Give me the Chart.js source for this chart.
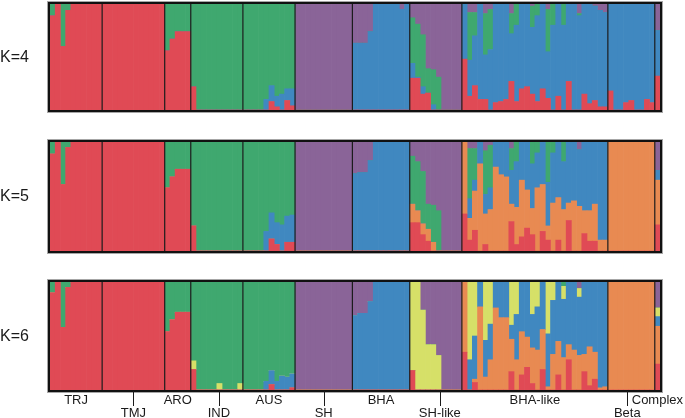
<!DOCTYPE html>
<html>
<head>
<meta charset="utf-8">
<script src="https://cdn.jsdelivr.net/npm/chart.js@4/dist/chart.umd.min.js"></script>
<style>
  html,body{margin:0;padding:0;background:#fff;}
  #wrap{position:relative;width:685px;height:418px;overflow:hidden;}
  .pan{position:absolute;left:0;width:685px;}
</style>
</head>
<body>
<div id="wrap">
  <div class="pan" style="top:0;height:114px"><canvas id="k4"></canvas></div>
  <div class="pan" style="top:138px;height:117px"><canvas id="k5"></canvas></div>
  <div class="pan" style="top:278px;height:140px"><canvas id="k6"></canvas></div>
</div>
<script>
// groups (individuals per group, left to right)
const groupNames = ["TRJ","TMJ","ARO","IND","AUS","SH","BHA","SH-like","BHA-like","Beta","Complex"];
const groupSizes = [10,12,5,10,10,11,11,10,28,9,1];

const colRed = "#e04a55", colGreen = "#3fa86f", colBlue = "#4088c0",
      colPurple = "#8a6498", colOrange = "#e88a52", colYellow = "#d6e068";

// ---- K=4 (bottom to top: red, blue, green, purple)
const k4Red = [
  0.89,1,0.6,0.94,1,1,1,1,1,1,
  1,1,1,1,1,1,1,1,1,1,1,1,
  0.56,0.67,0.74,0.74,0.74,
  0.22,0,0,0,0,0,0,0,0,0,
  0,0,0,0,0,0.08,0.03,0,0.09,0.04,
  0,0,0,0,0,0,0,0,0,0,0,
  0,0,0,0,0,0,0,0,0,0,0,
  0.3,0.3,0.15,0.16,0,0,0,0,0,0,
  0.48,0.13,0.23,0.1,0.1,0,0.07,0.08,0.1,0.27,0.08,0.2,0.22,0.15,0.08,0.2,0.11,0,0.13,0,0.27,0,0,0.15,0.06,0.09,0.03,0.03,
  0.18,0,0,0.07,0.09,0,0,0.1,0.07,
  0.32];
const k4Blue = [
  0,0,0,0,0,0,0,0,0,0,
  0,0,0,0,0,0,0,0,0,0,0,0,
  0,0,0,0,0,
  0,0,0,0,0,0,0,0,0,0,
  0,0,0,0,0.1,0.15,0.1,0.15,0.11,0.16,
  0,0,0,0,0,0,0,0,0,0,0,
  0.63,0.63,0.63,0.74,1,1,1,1,1,0.95,1,
  0.14,0.01,0.07,0,0.05,0,0,0,0,0,
  0.52,0.34,0.47,0.9,0.42,0.57,0.93,0.92,0.9,0.45,0.72,0.8,0.78,0.63,0.81,0.8,0.44,0.8,0.87,0.8,0.73,1,0.89,0.85,0.94,0.89,0.91,0.89,
  0.82,1,1,0.93,0.91,1,1,0.9,0.93,
  0.43];
const k4Green = [
  0.11,0,0.4,0.06,0,0,0,0,0,0,
  0,0,0,0,0,0,0,0,0,0,0,0,
  0.44,0.33,0.26,0.26,0.26,
  0.78,1,1,1,1,1,1,1,1,1,
  1,1,1,1,0.9,0.77,0.87,0.85,0.8,0.8,
  0,0,0,0,0,0,0,0,0,0,0,
  0,0,0,0,0,0,0,0,0,0,0,
  0.43,0.5,0.49,0.23,0.33,0.31,0,0,0,0,
  0,0.45,0.22,0,0.39,0.38,0,0,0,0.19,0.2,0,0,0.2,0.11,0,0.4,0.2,0,0.2,0,0,0.02,0,0,0,0,0,
  0,0,0,0,0,0,0,0,0,
  0];
const k4Purple = [
  0,0,0,0,0,0,0,0,0,0,
  0,0,0,0,0,0,0,0,0,0,0,0,
  0,0,0,0,0,
  0,0,0,0,0,0,0,0,0,0,
  0,0,0,0,0,0,0,0,0,0,
  1,1,1,1,1,1,1,1,1,1,1,
  0.37,0.37,0.37,0.26,0,0,0,0,0,0.05,0,
  0.13,0.19,0.29,0.61,0.62,0.69,1,1,1,1,
  0,0.08,0.08,0,0.09,0.05,0,0,0,0.09,0,0,0,0.02,0,0,0.05,0,0,0,0,0,0.09,0,0,0.02,0.06,0.08,
  0,0,0,0,0,0,0,0,0,
  0.25];

// ---- K=5 (bottom to top: red, orange, blue, green, purple)
const k5Red = [
  0.89,1,0.61,0.95,1,1,1,1,1,1,
  1,1,1,1,1,1,1,1,1,1,1,1,
  0.58,0.68,0.75,0.75,0.75,
  0.23,0,0,0,0,0,0,0,0,0,
  0,0,0,0,0,0.11,0.06,0,0.08,0.08,
  0,0,0,0,0,0,0,0,0,0,0,
  0,0,0,0,0,0,0,0,0,0,0,
  0.26,0.26,0.15,0.09,0,0,0,0,0,0,
  0.34,0.1,0.19,0,0.06,0,0,0,0,0.27,0.06,0.13,0.21,0.15,0,0.18,0.1,0,0.1,0,0.28,0,0,0.16,0.09,0.09,0,0,
  0,0,0,0,0,0,0,0,0,
  0.24];
const k5Orange = [
  0,0,0,0,0,0,0,0,0,0,
  0,0,0,0,0,0,0,0,0,0,0,0,
  0,0,0,0,0,
  0,0,0,0,0,0,0,0,0,0,
  0,0,0,0,0,0,0,0,0,0,
  0,0,0,0,0,0,0,0,0,0,0,
  0,0,0,0,0,0,0,0,0,0,0,
  0.17,0.11,0.1,0.11,0.08,0,0,0,0,0,
  0.66,0.2,0.36,0.8,0.28,0.38,0.77,0.7,0.68,0.16,0.34,0.52,0.35,0.24,0.58,0.43,0.13,0.44,0.39,0.38,0.16,0.46,0.41,0.21,0.28,0.34,0.1,0.1,
  1,1,1,1,1,1,1,1,1,
  0.41];
const k5Blue = [
  0,0,0,0,0,0,0,0,0,0,
  0,0,0,0,0,0,0,0,0,0,0,0,
  0,0,0,0,0,
  0,0,0,0,0,0,0,0,0,0,
  0,0,0,0,0.18,0.24,0.2,0.24,0.24,0.25,
  0,0,0,0,0,0,0,0,0,0,0,
  0.71,0.72,0.72,0.83,1,1,1,1,1,1,1,
  0,0,0,0,0,0,0,0,0,0,
  0,0.18,0.1,0.2,0.18,0.2,0.23,0.3,0.32,0.31,0.42,0.35,0.44,0.41,0.32,0.39,0.4,0.46,0.51,0.44,0.56,0.54,0.52,0.63,0.63,0.57,0.9,0.9,
  0,0,0,0,0,0,0,0,0,
  0.09];
const k5Green = [
  0.11,0,0.39,0.05,0,0,0,0,0,0,
  0,0,0,0,0,0,0,0,0,0,0,0,
  0.42,0.32,0.25,0.25,0.25,
  0.77,1,1,1,1,1,1,1,1,1,
  1,1,1,1,0.82,0.65,0.74,0.76,0.68,0.67,
  0,0,0,0,0,0,0,0,0,0,0,
  0,0,0,0,0,0,0,0,0,0,0,
  0.44,0.45,0.48,0.23,0.34,0.37,0,0,0,0,
  0,0.46,0.29,0,0.4,0.39,0,0,0,0.2,0.18,0,0,0.2,0.1,0,0.37,0.1,0,0.18,0,0,0,0,0,0,0,0,
  0,0,0,0,0,0,0,0,0,
  0];
const k5Purple = [
  0,0,0,0,0,0,0,0,0,0,
  0,0,0,0,0,0,0,0,0,0,0,0,
  0,0,0,0,0,
  0,0,0,0,0,0,0,0,0,0,
  0,0,0,0,0,0,0,0,0,0,
  1,1,1,1,1,1,1,1,1,1,1,
  0.29,0.28,0.28,0.17,0,0,0,0,0,0,0,
  0.13,0.18,0.27,0.57,0.58,0.63,1,1,1,1,
  0,0.06,0.06,0,0.08,0.03,0,0,0,0.06,0,0,0,0,0,0,0,0,0,0,0,0,0.07,0,0,0,0,0,
  0,0,0,0,0,0,0,0,0,
  0.26];

// ---- K=6 (bottom to top: red, orange, blue, yellow, green, purple)
const k6Red = [
  0.9,1,0.58,0.95,1,1,1,1,1,1,
  1,1,1,1,1,1,1,1,1,1,1,1,
  0.54,0.65,0.72,0.72,0.72,
  0.19,0,0,0,0,0,0,0,0,0,
  0,0,0,0,0,0.05,0,0,0,0.02,
  0,0,0,0,0,0,0,0,0,0,0,
  0,0,0,0,0,0,0,0,0,0,0,
  0.18,0,0,0,0,0,0,0,0,0,
  0.35,0,0.07,0,0,0,0,0,0,0.17,0,0.14,0.21,0.06,0,0.19,0,0,0.14,0,0.28,0,0,0.17,0.04,0.1,0,0,
  0,0,0,0,0,0,0,0,0,
  0.24];
const k6Orange = [
  0,0,0,0,0,0,0,0,0,0,
  0,0,0,0,0,0,0,0,0,0,0,0,
  0,0,0,0,0,
  0,0,0,0,0,0,0,0,0,0,
  0,0,0,0,0,0,0,0,0,0,
  0,0,0,0,0,0,0,0,0,0,0,
  0,0,0,0,0,0,0,0,0,0,0,
  0,0,0,0,0,0,0,0,0,0,
  0.65,0,0.03,0.77,0.12,0.28,0.76,0.67,0.67,0.3,0.28,0.4,0.28,0.33,0.37,0.37,0.03,0.33,0.31,0.3,0.14,0.37,0.32,0.16,0.36,0.25,0.02,0.03,
  1,1,1,1,1,1,1,1,1,
  0.35];
const k6Blue = [
  0,0,0,0,0,0,0,0,0,0,
  0,0,0,0,0,0,0,0,0,0,0,0,
  0,0,0,0,0,
  0,0,0,0,0,0,0,0,0,0,
  0,0,0,0,0.08,0.13,0.08,0.13,0.12,0.13,
  0,0,0,0,0,0,0,0,0,0,0,
  0.69,0.71,0.71,0.82,1,1,1,1,1,1,1,
  0,0,0,0,0,0,0,0,0,0,
  0,0.28,0.4,0.23,0.34,0.33,0.24,0.33,0.33,0.13,0.42,0.46,0.51,0.31,0.4,0.44,0.49,0.5,0.55,0.54,0.58,0.63,0.54,0.67,0.6,0.65,0.98,0.97,
  0,0,0,0,0,0,0,0,0,
  0.09];
const k6Yellow = [
  0,0,0,0,0,0,0,0,0,0,
  0,0,0,0,0,0,0,0,0,0,0,0,
  0,0,0,0,0,
  0.08,0,0,0,0,0.06,0,0,0,0.06,
  0,0,0,0,0,0,0,0,0,0,
  0,0,0,0,0,0,0,0,0,0,0,
  0,0,0,0,0,0,0,0,0,0,0,
  0.82,1,0.74,0.42,0.42,0.32,0,0,0,0,
  0,0.72,0.5,0,0.54,0.39,0,0,0,0.4,0.3,0,0,0.3,0.23,0,0.48,0.17,0,0.12,0,0,0.08,0,0,0,0,0,
  0,0,0,0,0,0,0,0,0,
  0.08];
const k6Green = [
  0.1,0,0.42,0.05,0,0,0,0,0,0,
  0,0,0,0,0,0,0,0,0,0,0,0,
  0.46,0.35,0.28,0.28,0.28,
  0.73,1,1,1,1,0.94,1,1,1,0.94,
  1,1,1,1,0.92,0.82,0.92,0.87,0.88,0.85,
  0,0,0,0,0,0,0,0,0,0,0,
  0,0,0,0,0,0,0,0,0,0,0,
  0,0,0,0,0,0,0,0,0,0,
  0,0,0,0,0,0,0,0,0,0,0,0,0,0,0,0,0,0,0,0.04,0,0,0,0,0,0,0,0,
  0,0,0,0,0,0,0,0,0,
  0];
const k6Purple = [
  0,0,0,0,0,0,0,0,0,0,
  0,0,0,0,0,0,0,0,0,0,0,0,
  0,0,0,0,0,
  0,0,0,0,0,0,0,0,0,0,
  0,0,0,0,0,0,0,0,0,0,
  1,1,1,1,1,1,1,1,1,1,1,
  0.31,0.29,0.29,0.18,0,0,0,0,0,0,0,
  0,0,0.26,0.58,0.58,0.68,1,1,1,1,
  0,0,0,0,0,0,0,0,0,0,0,0,0,0,0,0,0,0,0,0,0,0,0.06,0,0,0,0,0,
  0,0,0,0,0,0,0,0,0,
  0.24];

const indiv = k4Red.map((v,i)=>String(i+1));
const FONT = "Arial, 'Liberation Sans', Helvetica, sans-serif";

function ds(data,color){
  return {data:data,backgroundColor:color,borderWidth:0,barPercentage:1,categoryPercentage:1};
}

const structurePlugin = {
  id:"structure",
  afterDatasetsDraw(chart,args,opts){
    const ctx = chart.ctx, a = chart.chartArea, xs = chart.scales.x;
    ctx.save();
    // group separators
    ctx.strokeStyle = "#1c1c1c";
    ctx.lineWidth = 1.2;
    let b = 0;
    for(let g=0; g<groupSizes.length-1; g++){
      b += groupSizes[g];
      const x = (xs.getPixelForValue(b-1)+xs.getPixelForValue(b))/2;
      ctx.beginPath();
      ctx.moveTo(x,a.top); ctx.lineTo(x,a.bottom);
      ctx.stroke();
    }
    // frame
    ctx.strokeStyle = "rgba(0,0,0,0.35)";
    ctx.lineWidth = 1;
    ctx.strokeRect(a.left-2.5,a.top-2.5,a.right-a.left+5,a.bottom-a.top+5);
    ctx.strokeStyle = "#111";
    ctx.lineWidth = 2;
    ctx.strokeRect(a.left-1,a.top-1,a.right-a.left+2,a.bottom-a.top+2);
    // K label
    ctx.fillStyle = "#1a1a1a";
    ctx.font = "16px " + FONT;
    ctx.textAlign = "left";
    ctx.textBaseline = "middle";
    ctx.fillText(opts.label,0,(a.top+a.bottom)/2+0.5);
    // group labels under the last panel
    if(opts.groups){
      ctx.font = "13px " + FONT;
      ctx.textAlign = "center";
      ctx.strokeStyle = "#1a1a1a";
      ctx.lineWidth = 1;
      let s = 0;
      groupNames.forEach((name,g)=>{
        const e = s + groupSizes[g] - 1;
        let cx = (xs.getPixelForValue(s)+xs.getPixelForValue(e))/2;
        if(name==="Beta") cx -= 4;
        if(name==="SH-like") cx += 4;
        if(name==="IND") cx += 2;
        if(g%2===1){
          const tx = Math.round(cx)+0.5;
          ctx.beginPath();
          ctx.moveTo(tx,a.bottom+1); ctx.lineTo(tx,a.bottom+16);
          ctx.stroke();
          ctx.fillText(name,cx,a.bottom+23.5);
        } else {
          ctx.fillText(name,cx,a.bottom+10.5);
        }
        s = e + 1;
      });
    }
    ctx.restore();
  }
};

function makePanel(id,label,datasets,h,padBottom,groups){
  const cv = document.getElementById(id);
  cv.width = 685; cv.height = h;
  cv.style.width = "685px"; cv.style.height = h+"px";
  return new Chart(cv,{
    type:"bar",
    data:{labels:indiv,datasets:datasets},
    options:{
      responsive:false,
      animation:false,
      layout:{padding:{left:50,right:25,top:4,bottom:padBottom}},
      plugins:{legend:{display:false},tooltip:{enabled:false},structure:{label:label,groups:groups}},
      scales:{
        x:{stacked:true,display:false},
        y:{stacked:true,display:false,min:0,max:1}
      }
    },
    plugins:[structurePlugin]
  });
}

makePanel("k4","K=4",[
  ds(k4Red,colRed),ds(k4Blue,colBlue),ds(k4Green,colGreen),ds(k4Purple,colPurple)
],114,4,false);

makePanel("k5","K=5",[
  ds(k5Red,colRed),ds(k5Orange,colOrange),ds(k5Blue,colBlue),ds(k5Green,colGreen),ds(k5Purple,colPurple)
],117,4,false);

makePanel("k6","K=6",[
  ds(k6Red,colRed),ds(k6Orange,colOrange),ds(k6Blue,colBlue),ds(k6Yellow,colYellow),ds(k6Green,colGreen),ds(k6Purple,colPurple)
],140,28,true);
</script>
</body>
</html>
